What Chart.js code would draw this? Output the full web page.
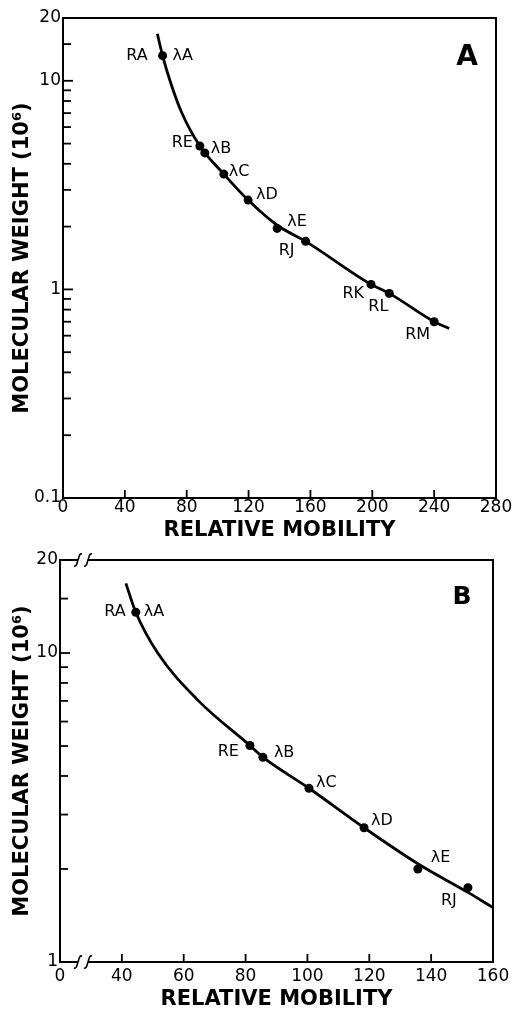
<!DOCTYPE html>
<html><head><meta charset="utf-8">
<script src="https://cdn.jsdelivr.net/npm/chart.js@4.4.1/dist/chart.umd.min.js"></script>
<style>
html,body{margin:0;padding:0;background:#fff;overflow:hidden;}
#ca{position:absolute;left:0;top:0;}
#cb{position:absolute;left:0;top:545px;}
</style></head><body>
<canvas id="ca" width="514" height="545"></canvas>
<canvas id="cb" width="514" height="465"></canvas>
<script>
// ---------- Panel A data ----------
const curveAX = [61, 64.4, 69.2, 76.3, 88.5, 104, 119.7, 138.5, 156.9, 199.2, 211, 240, 249.7];
const curveAY = [16.8, 13.2, 10, 7.17, 4.87, 3.57, 2.68, 2.03, 1.70, 1.057, 0.957, 0.70, 0.65];
const pointsAX = [64.4, 88.5, 91.7, 104, 119.7, 138.5, 156.9, 199.2, 211, 240];
const pointsAY = [13.2, 4.87, 4.51, 3.57, 2.68, 1.96, 1.70, 1.057, 0.957, 0.70];
const labelsA = ['RA', 'λA', 'RE', 'λB', 'λC', 'λD', 'λE', 'RJ', 'RK', 'RL', 'RM'];
const labelPointA = [0, 0, 1, 2, 3, 4, 5, 6, 7, 8, 9];
const xTickValuesA = [0, 40, 80, 120, 160, 200, 240, 280];
const xTickTextA = ['0', '40', '80', '120', '160', '200', '240', '280'];
const yTickValuesA = [0.1, 0.2, 0.3, 0.4, 0.5, 0.6, 0.7, 0.8, 0.9, 1, 2, 3, 4, 5, 6, 7, 8, 9, 10, 15, 20];
const yTickTextA = ['0.1', '', '', '', '', '', '', '', '', '1', '', '', '', '', '', '', '', '', '10', '', '20'];

// ---------- Panel B data ----------
const curveBX = [41.3, 44.5, 51.6, 64.8, 81.4, 85.6, 100.5, 118.3, 135.7, 151.9, 160];
const curveBY = [16.8, 13.55, 10, 7.0, 5.02, 4.6, 3.65, 2.72, 2.08, 1.68, 1.50];
const pointsBX = [44.5, 81.4, 85.6, 100.5, 118.3, 135.7, 151.9];
const pointsBY = [13.55, 5.02, 4.6, 3.65, 2.72, 2.0, 1.74];
const labelsB = ['RA', 'λA', 'RE', 'λB', 'λC', 'λD', 'λE', 'RJ'];
const labelPointB = [0, 0, 1, 2, 3, 4, 5, 6];
const xTickValuesB = [20, 40, 60, 80, 100, 120, 140, 160];
const xTickTextB = ['0', '40', '60', '80', '100', '120', '140', '160'];
const yTickValuesB = [1, 2, 3, 4, 5, 6, 7, 8, 9, 10, 15, 20];
const yTickTextB = ['1', '', '', '', '', '', '', '', '', '10', '', '20'];

const xTitle = 'RELATIVE MOBILITY';
const yTitle = 'MOLECULAR WEIGHT (10⁶)';

// ---------- styles (label offsets: dx, dy, align) ----------
const labelStyleA = [[-15,0,'right'],[10,0,'left'],[-7,-3,'right'],[6,-4,'left'],[5,-2,'left'],[8,-5,'left'],[10,-7,'left'],[-27,10,'left'],[-7,9,'right'],[-21,13,'left'],[-29,13,'left']];
const labelStyleB = [[-10,0,'right'],[8,0,'left'],[-11,6,'right'],[11,-4,'left'],[7,-5,'left'],[7,-7,'left'],[13,-11,'left'],[-27,13,'left']];

const FONT = "'DejaVu Sans', 'Liberation Sans', sans-serif";
Chart.defaults.font.family = FONT;
Chart.defaults.color = '#000';

function xy(xs, ys) { return xs.map((x, i) => ({x: x, y: ys[i]})); }

function makeDecor(o) {
  return {
    id: 'decor',
    afterDraw(chart) {
      const ctx = chart.ctx, a = chart.chartArea, sx = chart.scales.x, sy = chart.scales.y;
      ctx.save();
      ctx.strokeStyle = '#000'; ctx.fillStyle = '#000';
      ctx.lineWidth = 2;
      ctx.strokeRect(a.left, a.top, a.right - a.left, a.bottom - a.top);
      ctx.lineWidth = 1.8;
      o.xTicks.forEach((v, i) => {
        if (i === 0 || i === o.xTicks.length - 1) return;
        const px = sx.getPixelForValue(v);
        ctx.beginPath(); ctx.moveTo(px, a.bottom); ctx.lineTo(px, a.bottom - 8); ctx.stroke();
      });
      o.yTicks.forEach((v, i) => {
        if (i === 0 || i === o.yTicks.length - 1) return;
        const py = sy.getPixelForValue(v);
        const len = o.yText[i] ? 10 : 8;
        ctx.beginPath(); ctx.moveTo(a.left, py); ctx.lineTo(a.left + len, py); ctx.stroke();
      });
      if (o.breaks) {
        [a.top, a.bottom].forEach(yy => {
          ctx.fillStyle = '#fff';
          ctx.fillRect(a.left + 18, yy - 2, 10, 4);
          ctx.strokeStyle = '#000'; ctx.lineWidth = 1.6;
          [a.left + 18, a.left + 28].forEach(bx => {
            ctx.beginPath();
            ctx.moveTo(bx - 4, yy + 6);
            ctx.bezierCurveTo(bx - 1, yy + 7, bx - 1, yy + 2, bx, yy);
            ctx.bezierCurveTo(bx + 1, yy - 2, bx + 1, yy - 7, bx + 4, yy - 6);
            ctx.stroke();
          });
        });
        ctx.fillStyle = '#000';
      }
      const pts = chart.getDatasetMeta(1).data;
      ctx.font = '16px ' + FONT;
      ctx.textBaseline = 'middle';
      o.labels.forEach((t, i) => {
        const p = pts[o.labelPoint[i]];
        const s = o.style[i];
        ctx.textAlign = s[2];
        ctx.fillText(t, p.x + s[0], p.y + s[1]);
      });
      ctx.font = 'bold ' + o.panelSize + 'px ' + FONT;
      ctx.textAlign = 'center';
      ctx.fillText(o.panel, a.right + o.panelDx, a.top + o.panelDy);
      ctx.restore();
    }
  };
}

function makeChart(id, c) {
  return new Chart(document.getElementById(id), {
    data: {
      datasets: [
        { type: 'line', data: xy(c.curveX, c.curveY), borderColor: '#000', borderWidth: 2.8,
          pointRadius: 0, cubicInterpolationMode: 'monotone', fill: false },
        { type: 'scatter', data: xy(c.ptsX, c.ptsY), backgroundColor: '#000', borderColor: '#000',
          pointRadius: 4.5, borderWidth: 0 }
      ]
    },
    options: {
      responsive: false, animation: false, devicePixelRatio: 1,
      layout: { padding: { top: c.padTop, right: c.padRight, left: 0, bottom: 0 } },
      plugins: { legend: { display: false }, tooltip: { enabled: false } },
      scales: {
        x: {
          type: 'linear', min: c.xTicks[0], max: c.xTicks[c.xTicks.length - 1],
          afterBuildTicks: s => { s.ticks = c.xTicks.map(v => ({ value: v })); },
          afterFit: s => { s.height = c.xHeight; },
          grid: { display: false, drawTicks: false }, border: { display: false },
          ticks: { autoSkip: false, maxRotation: 0, padding: c.xTickPad, font: { size: 17 },
                   callback: (v, i) => c.xText[i] },
          title: { display: true, text: xTitle, font: { size: 21, weight: 'bold' },
                   padding: { top: 0, bottom: c.xTitlePad } }
        },
        y: {
          type: 'logarithmic', min: c.yTicks[0], max: c.yTicks[c.yTicks.length - 1],
          afterBuildTicks: s => { s.ticks = c.yTicks.map(v => ({ value: v })); },
          afterFit: s => { s.width = c.yWidth; },
          grid: { display: false, drawTicks: false }, border: { display: false },
          ticks: { autoSkip: false, padding: 2, font: { size: 17 },
                   callback: (v, i) => c.yText[i] },
          title: { display: true, text: yTitle, font: { size: 21, weight: 'bold' },
                   padding: { top: 10, bottom: 0 } }
        }
      }
    },
    plugins: [makeDecor({ xTicks: c.xTicks, yTicks: c.yTicks, yText: c.yText, breaks: c.breaks,
      labels: c.labels, labelPoint: c.labelPoint, style: c.style,
      panel: c.panel, panelSize: c.panelSize, panelDx: c.panelDx, panelDy: c.panelDy })]
  });
}

makeChart('ca', {
  curveX: curveAX, curveY: curveAY, ptsX: pointsAX, ptsY: pointsAY,
  xTicks: xTickValuesA, xText: xTickTextA, yTicks: yTickValuesA, yText: yTickTextA,
  labels: labelsA, labelPoint: labelPointA, style: labelStyleA,
  padTop: 18, padRight: 18, yWidth: 63, xHeight: 47, xTickPad: -1, xTitlePad: 2,
  breaks: false, panel: 'A', panelSize: 28, panelDx: -29, panelDy: 40
});
makeChart('cb', {
  curveX: curveBX, curveY: curveBY, ptsX: pointsBX, ptsY: pointsBY,
  xTicks: xTickValuesB, xText: xTickTextB, yTicks: yTickValuesB, yText: yTickTextB,
  labels: labelsB, labelPoint: labelPointB, style: labelStyleB,
  padTop: 15, padRight: 21, yWidth: 60, xHeight: 48, xTickPad: 4, xTitlePad: -2,
  breaks: true, panel: 'B', panelSize: 25, panelDx: -31, panelDy: 37
});
</script>
</body></html>
